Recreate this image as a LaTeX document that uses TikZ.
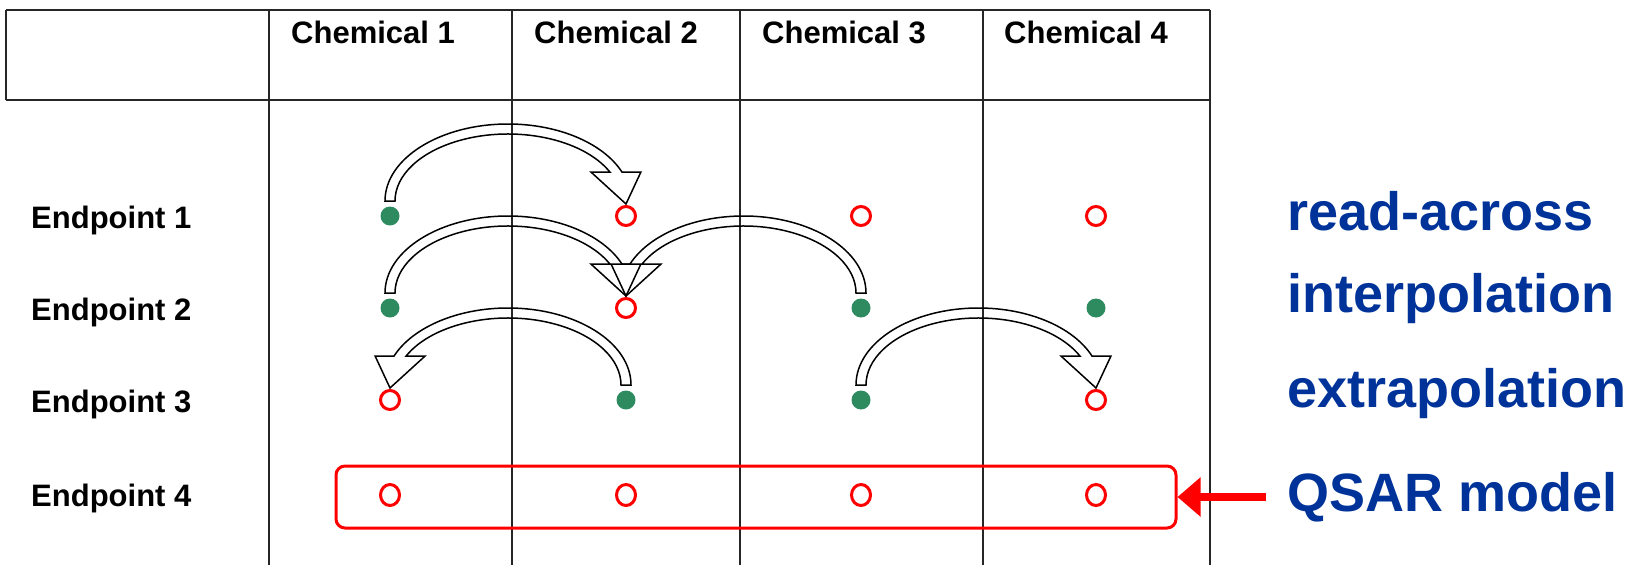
\documentclass[tikz,border=0pt]{standalone}
\usepackage{fontspec}
\setmainfont{Liberation Sans}
\usetikzlibrary{arrows.meta,shapes.geometric}
\definecolor{dotgreen}{RGB}{46,139,95}
\definecolor{labelblue}{RGB}{0,51,153}

% Hollow curved block arrow from one dot node to another (PowerPoint-like)
\newcommand\bendarrow[2]{%
  \path (#1.center); \pgfgetlastxy{\ArSx}{\ArSy}%
  \path (#2.center); \pgfgetlastxy{\ArTx}{\ArTy}%
  \pgfmathsetmacro\ArDir{(\ArTx>\ArSx) ? 1 : -1}%
  \pgfmathsetmacro\ArBase{\ArSy+15}%      tail bottom
  \pgfmathsetmacro\ArCx{(\ArSx+\ArTx)/2}%  apex x
  \pgfmathsetmacro\ArRa{abs(\ArCx-\ArSx)}%
  \pgfmathsetmacro\ArRb{72}%
  \pgfmathsetmacro\ArH{29}%               head base above tail
  \pgfmathsetmacro\ArAo{\ArRa+5}%
  \pgfmathsetmacro\ArBo{\ArRb+5}%
  \pgfmathsetmacro\ArAi{\ArRa-5}%
  \pgfmathsetmacro\ArBi{\ArRb-5}%
  \pgfmathsetmacro\ArTho{asin(\ArH/\ArBo)}%
  \pgfmathsetmacro\ArThi{asin(\ArH/\ArBi)}%
  \pgfmathsetmacro\ArXo{\ArCx+\ArDir*\ArAo*cos(\ArTho)}%
  \pgfmathsetmacro\ArXi{\ArCx+\ArDir*\ArAi*cos(\ArThi)}%
  \pgfmathsetmacro\ArHc{(\ArXo+\ArXi)/2}%
  \pgfmathsetmacro\ArHy{\ArBase+\ArH}%
  \pgfmathsetmacro\ArBarbO{\ArHc+\ArDir*25}%
  \pgfmathsetmacro\ArBarbI{\ArHc-\ArDir*25}%
  \pgfmathsetmacro\ArPy{\ArTy+12}%
  \pgfmathsetmacro\ArSt{(\ArDir>0) ? 180 : 0}%
  \pgfmathsetmacro\ArEo{(\ArDir>0) ? \ArTho : 180-\ArTho}%
  \pgfmathsetmacro\ArEi{(\ArDir>0) ? \ArThi : 180-\ArThi}%
  \pgfmathsetmacro\ArXso{\ArCx-\ArDir*\ArAo}%
  \draw[blockarrow] (\ArXso pt,\ArBase pt)
     arc[start angle=\ArSt, end angle=\ArEo, x radius=\ArAo pt, y radius=\ArBo pt]
     -- (\ArBarbO pt,\ArHy pt) -- (\ArTx,\ArPy pt) -- (\ArBarbI pt,\ArHy pt)
     -- (\ArXi pt,\ArHy pt)
     arc[start angle=\ArEi, end angle=\ArSt, x radius=\ArAi pt, y radius=\ArBi pt]
     -- cycle;%
}

\begin{document}
\begin{tikzpicture}[x=1pt,y=-1pt,
  gridline/.style={line width=1.8pt,black!85},
  headtext/.style={anchor=base west,inner sep=0pt,font=\fontsize{31}{36}\selectfont\bfseries},
  rowtext/.style={anchor=base west,inner sep=0pt,font=\fontsize{31}{36}\selectfont\bfseries},
  sidetext/.style={anchor=base west,inner sep=0pt,text=labelblue,font=\fontsize{54}{60}\selectfont\bfseries},
  known/.style={circle,fill=dotgreen,inner sep=0pt,minimum size=19pt},
  unknown/.style={circle,draw=red,line width=3pt,inner sep=0pt,minimum size=19pt},
  modelled/.style={ellipse,draw=red,line width=3pt,inner sep=0pt,minimum width=19pt,minimum height=21pt},
  blockarrow/.style={draw=black,line width=1.5pt,line join=miter},
  qsarbox/.style={draw=red,line width=3pt,rounded corners=9pt,minimum width=840pt,minimum height=62pt,inner sep=0pt},
  qsararrow/.style={draw=red,line width=8pt,-{Triangle[length=23pt,width=38pt]}}
]
\useasboundingbox (0,0) rectangle (1636,565);

% table grid
\draw[gridline] (6,10) -- (1210,10);
\draw[gridline] (6,100) -- (1210,100);
\draw[gridline] (6,10) -- (6,100);
\foreach \cx in {269,512,740,983,1210}
  \draw[gridline] (\cx,10) -- (\cx,565);

% column headers
\node[headtext] (h1) at (291,43.5) {Chemical 1};
\node[headtext] (h2) at (534,43.5) {Chemical 2};
\node[headtext] (h3) at (762,43.5) {Chemical 3};
\node[headtext] (h4) at (1004,43.5) {Chemical 4};

% row labels
\node[rowtext] (e1) at (31,228) {Endpoint 1};
\node[rowtext] (e2) at (31,320) {Endpoint 2};
\node[rowtext] (e3) at (31,412) {Endpoint 3};
\node[rowtext] (e4) at (31,506) {Endpoint 4};

% data points
\node[known]   (d11) at (390,216) {};
\node[unknown] (d12) at (626,216) {};
\node[unknown] (d13) at (861,216) {};
\node[unknown] (d14) at (1096,216) {};
\node[known]   (d21) at (390,308) {};
\node[unknown] (d22) at (626,308) {};
\node[known]   (d23) at (861,308) {};
\node[known]   (d24) at (1096,308) {};
\node[unknown] (d31) at (390,400) {};
\node[known]   (d32) at (626,400) {};
\node[known]   (d33) at (861,400) {};
\node[unknown] (d34) at (1096,400) {};
\node[modelled] (d41) at (390,495) {};
\node[modelled] (d42) at (626,495) {};
\node[modelled] (d43) at (861,495) {};
\node[modelled] (d44) at (1096,495) {};

% data-gap filling arrows
\bendarrow{d11}{d12}
\bendarrow{d21}{d22}
\bendarrow{d23}{d22}
\bendarrow{d32}{d31}
\bendarrow{d33}{d34}

% QSAR row
\node[qsarbox] (box) at (756,497) {};

% method labels
\node[sidetext] (ra) at (1287,230) {read-across};
\node[sidetext] (ip) at (1287,312.7) {interpolation};
\node[sidetext] (ep) at (1287,407) {extrapolation};
\node[sidetext] (qm) at (1287,511.7) {QSAR model};

\coordinate (qtail) at ([xshift=-21pt]qm.west |- box.east);
\draw[qsararrow] (qtail) -- (box.east);
\end{tikzpicture}
\end{document}
